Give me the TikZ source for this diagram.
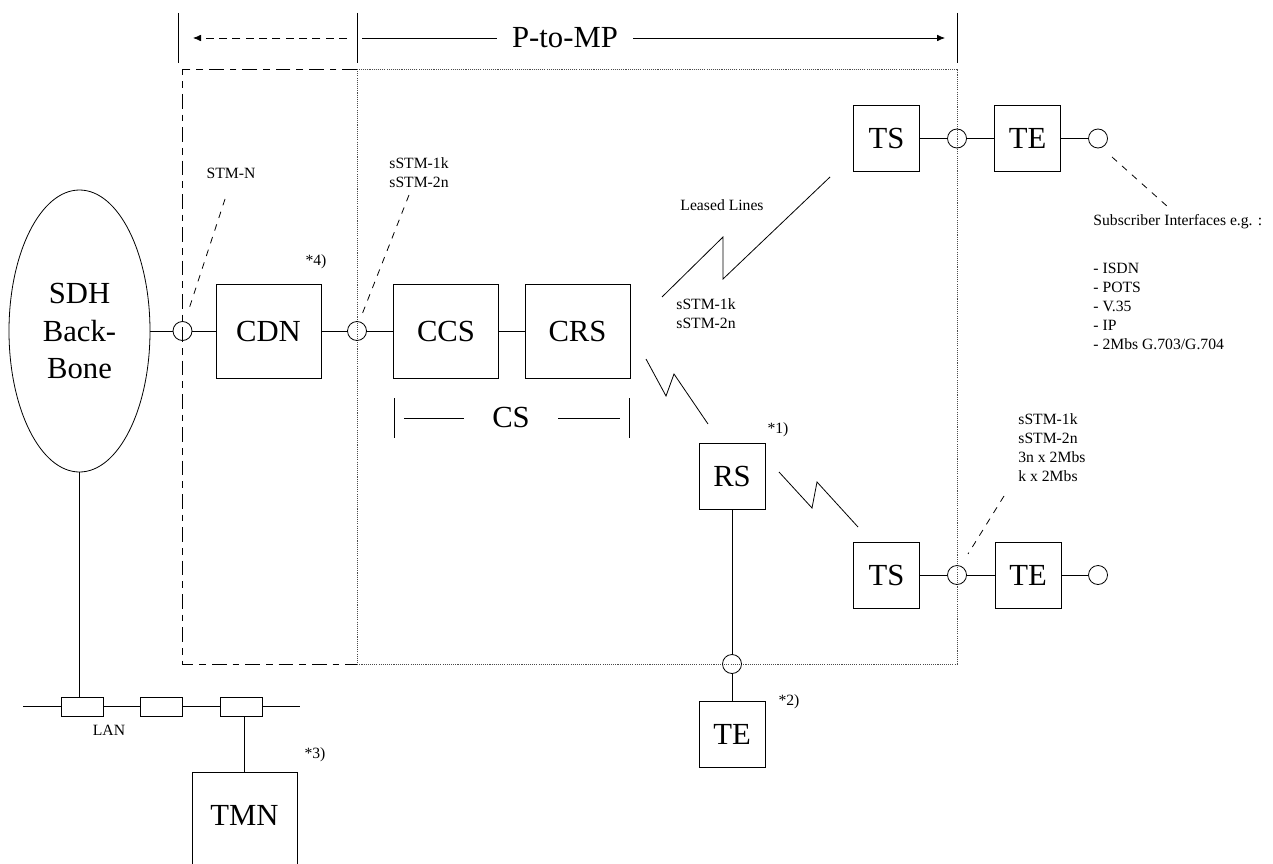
\documentclass[tikz,border=0pt]{standalone}
\usepackage{fontspec}
\setmainfont{Liberation Serif}
\usepackage{tikz}
\usetikzlibrary{shapes.geometric}
\usetikzlibrary{arrows.meta}
\newcommand\bigfont{\fontsize{23}{28}\selectfont}
\newcommand\smallfont{\fontsize{11.75}{14.25}\selectfont}

\begin{document}
\begin{tikzpicture}[x=0.75pt, y=-0.75pt, line width=0.6pt,
	unitbox/.style={draw, minimum width=78.75pt, minimum height=70.5pt, inner sep=0pt, font=\bigfont},
	sitebox/.style={draw, minimum width=49.5pt, minimum height=49.5pt, inner sep=0pt, font=\bigfont},
	portring/.style={draw, circle, minimum size=14.25pt, inner sep=0pt},
	lantap/.style={draw, minimum width=31.5pt, minimum height=14.25pt, inner sep=0pt},
	note/.style={font=\smallfont, inner sep=0pt, align=left},
	leader/.style={dash pattern=on 5pt off 5pt},
	zoneline/.style={dash pattern=on 11pt off 4.5pt on 5pt off 4.5pt},
	arealine/.style={black!70, line width=0.5pt, dash pattern=on 0.8pt off 0.8pt}]
		\useasboundingbox (0,0) rectangle (1273,863);
		\clip (0,0) rectangle (1273,863);
		\draw (178,13)--(178,63);
		\draw (357,13)--(357,63);
		\draw (957,13)--(957,63);
		\coordinate (ldash) at (347,38);
		\coordinate (lend) at (193,38);
		\coordinate (rstart) at (362,38);
		\coordinate (rend) at (945,38);
		\node[font=\bigfont, inner xsep=11.25pt] (ptomp) at (565,38) {P-to-MP};
		\draw[dash pattern=on 6pt off 4pt, -{Latex[length=6pt, width=5pt]}] (ldash)--(lend);
		\draw (rstart)--(ptomp.west);
		\draw[-{Latex[length=6pt, width=5pt]}] (ptomp.east)--(rend);
		\draw[zoneline] (357,69)--(182,69)--(182,664)--(357,664);
		\draw[arealine] (357,69) rectangle (957,664);
		\node[draw, ellipse, minimum width=105.75pt, minimum height=211.5pt, inner sep=0pt, align=center, font=\bigfont] (sdh) at (79.5,331) {SDH\\Back-\\Bone};
		\node[portring] (p1) at (182.5,331) {};
		\node[unitbox] (cdn) at (268.5,331) {CDN};
		\node[portring] (p2) at (357,331) {};
		\node[unitbox] (ccs) at (446,331) {CCS};
		\node[unitbox] (crs) at (577.5,331) {CRS};
		\node[sitebox] (ts1) at (886.5,138.5) {TS};
		\node[portring] (p3) at (957,138.5) {};
		\node[sitebox] (te1) at (1027.5,138.5) {TE};
		\node[portring] (p4) at (1098,138.5) {};
		\node[sitebox] (rs) at (732,476) {RS};
		\node[sitebox] (ts2) at (886.5,575) {TS};
		\node[portring] (p5) at (957,575) {};
		\node[sitebox] (te2) at (1028,575) {TE};
		\node[portring] (p6) at (1098,575) {};
		\node[portring] (p7) at (732,664) {};
		\node[sitebox] (te3) at (732,734.5) {TE};
		\node[lantap] (lan1) at (82,706.5) {};
		\node[lantap] (lan2) at (161.5,706.5) {};
		\node[lantap] (lan3) at (241.5,706.5) {};
		\node[draw, minimum width=78.75pt, minimum height=90pt, anchor=north] (tmn) at (244.5,772) {};
		\node[font=\bigfont] (tmntext) at (244.5,815) {TMN};
		\draw (sdh.east)--(p1)--(cdn)--(p2)--(ccs)--(crs);
		\draw (ts1)--(p3)--(te1)--(p4);
		\draw (ts2)--(p5)--(te2)--(p6);
		\draw (rs)--(p7)--(te3);
		\draw (sdh.south)--(sdh.south |- lan1.north);
		\coordinate (lanl) at (23,706.5);
		\coordinate (lanr) at (300,706.5);
		\draw (lanl)--(lan1)--(lan2)--(lan3)--(lanr);
		\draw (tmn.north |- lan3.south)--(tmn.north);
		\draw (662,297)--(723,237)--(723,279)--(830,177);
		\draw (646,359)--(666,396)--(674,374)--(708,424);
		\draw (779,472)--(812,508)--(817,482)--(858,527);
		\draw[leader] (225,199)--(188,312);
		\draw[leader] (409,195)--(361,317);
		\draw[leader] (1004,496)--(968,554);
		\draw[leader] (1112,157)--(1168,207);
		\node[note] (stmn) at (231,173) {STM-N};
		\node[note, anchor=west] (sstma) at (389,173) {sSTM-1k\\sSTM-2n};
		\node[note] (n4) at (316,262) {*4)};
		\node[note] (leased) at (722,205) {Leased Lines};
		\node[note, anchor=west] (sstmb) at (676,314) {sSTM-1k\\sSTM-2n};
		\node[note] (n1) at (778,430) {*1)};
		\node[note] (n2) at (789,702) {*2)};
		\node[note] (n3) at (315,755) {*3)};
		\node[note] (lan) at (109,730) {LAN};
		\node[note, anchor=west] (sstmc) at (1018,447.5) {sSTM-1k\\sSTM-2n\\3n x 2Mbs\\k x 2Mbs};
		\node[note, anchor=north west] (subif) at (1093,214) {Subscriber Interfaces e.g. :\\[22pt]- ISDN\\- POTS\\- V.35\\- IP\\- 2Mbs G.703/G.704};
		\draw (394,398)--(394,438);
		\draw (629,398)--(629,438);
		\node[font=\bigfont] (cs) at (511,417) {CS};
		\draw (404,418)--(464,418);
		\draw (558,418)--(620,418);
\end{tikzpicture}
\end{document}
